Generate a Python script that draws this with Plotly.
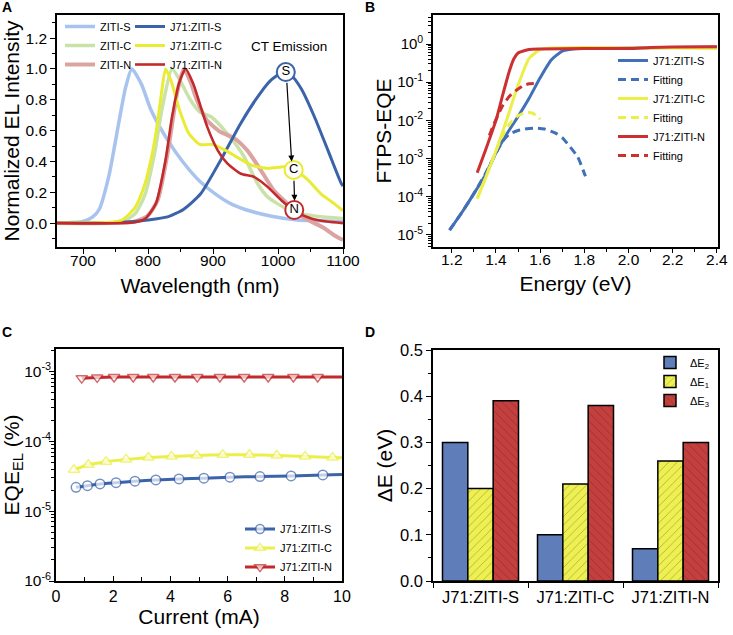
import plotly.graph_objects as go

W, H = 733, 635
FONT = "Liberation Sans, Arial, Helvetica, sans-serif"

# ---------------- Panel A: normalized EL spectra ----------------
wl_ziti_s = [660, 700, 715, 725, 740, 755, 765, 775, 790, 805, 830, 855, 880, 905, 930, 960, 990, 1030, 1060, 1100]
el_ziti_s = [0.0, 0.01, 0.04, 0.09, 0.31, 0.65, 0.87, 1.0, 0.90, 0.73, 0.54, 0.39, 0.27, 0.185, 0.12, 0.075, 0.045, 0.02, 0.015, 0.01]

wl_ziti_c = [660, 760, 780, 795, 810, 822, 837, 850, 865, 880, 897, 922, 948, 968, 984, 1010, 1036, 1070, 1100]
el_ziti_c = [0.0, 0.01, 0.06, 0.18, 0.45, 0.75, 1.0, 0.92, 0.80, 0.72, 0.69, 0.58, 0.43, 0.26, 0.17, 0.10, 0.06, 0.04, 0.03]

wl_ziti_n = [660, 780, 800, 815, 830, 845, 855, 865, 875, 890, 912, 933, 953, 974, 994, 1015, 1036, 1056, 1070, 1087, 1100]
el_ziti_n = [0.0, 0.01, 0.05, 0.15, 0.45, 0.85, 1.0, 0.92, 0.80, 0.67, 0.59, 0.55, 0.47, 0.34, 0.21, 0.125, 0.045, 0.0, -0.03, -0.08, -0.11]

wl_j71_s = [660, 760, 800, 830, 855, 881, 912, 943, 974, 990, 1008, 1020, 1036, 1056, 1077, 1097, 1100]
el_j71_s = [0.0, 0.005, 0.02, 0.04, 0.09, 0.19, 0.41, 0.65, 0.85, 0.93, 0.98, 0.96, 0.87, 0.69, 0.47, 0.26, 0.24]

wl_j71_c = [660, 740, 760, 780, 795, 805, 812, 820, 827, 835, 848, 863, 880, 900, 920, 940, 960, 985, 1010, 1024, 1046, 1066, 1087, 1100]
el_j71_c = [0.0, 0.005, 0.02, 0.10, 0.25, 0.42, 0.58, 0.82, 1.0, 0.93, 0.74, 0.58, 0.51, 0.51, 0.47, 0.42, 0.375, 0.355, 0.365, 0.35, 0.28, 0.19, 0.125, 0.08]

wl_j71_n = [660, 780, 796, 812, 827, 837, 848, 858, 870, 881, 891, 907, 922, 943, 963, 984, 1005, 1025, 1051, 1075, 1100]
el_j71_n = [0.0, 0.005, 0.03, 0.125, 0.41, 0.69, 0.91, 1.0, 0.90, 0.756, 0.626, 0.474, 0.387, 0.32, 0.30, 0.235, 0.148, 0.08, 0.03, 0.01, 0.0]

ct_labels = ["S", "C", "N"]
ct_wl = [1012, 1024, 1025]
ct_el = [0.98, 0.345, 0.085]

# ---------------- Panel B: FTPS-EQE ----------------
e_s = [1.19, 1.25, 1.30, 1.35, 1.40, 1.45, 1.50, 1.55, 1.60, 1.65, 1.70, 1.75, 1.80, 2.00, 2.20, 2.40]
eqe_s = [1.32e-5, 4.2e-5, 1.2e-4, 3.5e-4, 1.4e-3, 4.5e-3, 1.26e-2, 3.8e-2, 0.13, 0.38, 0.65, 0.74, 0.76, 0.79, 0.81, 0.83]
e_s_fit = [1.19, 1.25, 1.30, 1.35, 1.40, 1.43, 1.46, 1.50, 1.54, 1.58, 1.62, 1.67, 1.70, 1.73, 1.77, 1.805]
eqe_s_fit = [1.32e-5, 4.2e-5, 1.2e-4, 3.8e-4, 1.38e-3, 2.8e-3, 4.3e-3, 5.4e-3, 6.0e-3, 6.3e-3, 5.9e-3, 4.6e-3, 3.5e-3, 2.2e-3, 1.1e-3, 3.4e-4]

e_c = [1.315, 1.35, 1.40, 1.45, 1.50, 1.55, 1.60, 1.65, 1.80, 2.00, 2.20, 2.40]
eqe_c = [8.9e-5, 2.8e-4, 1.6e-3, 1.1e-2, 8.3e-2, 0.42, 0.71, 0.78, 0.81, 0.79, 0.79, 0.76]
e_c_fit = [1.315, 1.35, 1.40, 1.43, 1.46, 1.50, 1.53, 1.56, 1.58, 1.60]
eqe_c_fit = [8.9e-5, 2.8e-4, 1.6e-3, 4.0e-3, 7.9e-3, 1.32e-2, 1.58e-2, 1.58e-2, 1.38e-2, 1.07e-2]

e_n = [1.315, 1.35, 1.40, 1.43, 1.46, 1.48, 1.50, 1.55, 1.60, 1.80, 2.00, 2.10, 2.20, 2.40]
eqe_n = [4.2e-4, 1.5e-3, 1.0e-2, 4.5e-2, 0.19, 0.40, 0.58, 0.72, 0.74, 0.76, 0.76, 0.81, 0.83, 0.85]
e_n_fit = [1.37, 1.39, 1.41, 1.43, 1.46, 1.49, 1.52, 1.55, 1.59]
eqe_n_fit = [4.0e-3, 7.9e-3, 1.4e-2, 2.4e-2, 4.2e-2, 6.0e-2, 7.9e-2, 9.1e-2, 9.3e-2]

b_tickvals = [1e-5, 1e-4, 1e-3, 1e-2, 1e-1, 1]
b_ticktext = ["10<sup>-5</sup>", "10<sup>-4</sup>", "10<sup>-3</sup>", "10<sup>-2</sup>", "10<sup>-1</sup>", "10<sup>0</sup>"]

# ---------------- Panel C: EQE_EL vs current ----------------
cur_s = [0.70, 1.10, 1.54, 2.10, 2.76, 3.49, 4.30, 5.17, 6.08, 7.13, 8.22, 9.33, 10.0]
eqe_el_s = [2.19e-5, 2.31e-5, 2.45e-5, 2.55e-5, 2.68e-5, 2.79e-5, 2.89e-5, 2.96e-5, 3.06e-5, 3.12e-5, 3.19e-5, 3.30e-5, 3.35e-5]
cur_c = [0.63, 1.13, 1.75, 2.45, 3.23, 4.04, 4.92, 5.83, 6.76, 7.72, 8.71, 9.67, 10.0]
eqe_el_c = [3.9e-5, 4.6e-5, 5.1e-5, 5.5e-5, 5.85e-5, 6.05e-5, 6.25e-5, 6.4e-5, 6.4e-5, 6.25e-5, 6.05e-5, 5.85e-5, 5.8e-5]
cur_n = [0.90, 1.44, 2.03, 2.70, 3.40, 4.16, 4.94, 5.73, 6.58, 7.42, 8.30, 9.15, 10.0]
eqe_el_n = [8.0e-4, 8.2e-4, 8.3e-4, 8.3e-4, 8.3e-4, 8.3e-4, 8.3e-4, 8.3e-4, 8.3e-4, 8.3e-4, 8.3e-4, 8.3e-4, 8.3e-4]

c_tickvals = [1e-6, 1e-5, 1e-4, 1e-3]
c_ticktext = ["10<sup>-6</sup>", "10<sup>-5</sup>", "10<sup>-4</sup>", "10<sup>-3</sup>"]

# ---------------- Panel D: energy losses ----------------
devices = ["J71:ZITI-S", "J71:ZITI-C", "J71:ZITI-N"]
dE2 = [0.30, 0.10, 0.07]
dE1 = [0.20, 0.21, 0.26]
dE3 = [0.39, 0.38, 0.30]

# ---------------- colours ----------------
LBLUE, LGREEN, PINK = "#a9c3ef", "#c9e2aa", "#dca3a3"
BLUE, YELLOW, RED = "#3b63aa", "#e9ec34", "#c22a2c"
B_BLUE, B_YELLOW, B_RED = "#4170b8", "#ecef4a", "#cc3030"
D_BLUE, D_YELLOW, D_RED = "#5e7db9", "#eef052", "#c4403f"

fig = go.Figure()

def spec(x, y, name, color, width, legend):
    fig.add_trace(go.Scatter(x=x, y=y, name=name, mode="lines", xaxis="x", yaxis="y",
                             line=dict(color=color, width=width, shape="spline", smoothing=0.6),
                             legend=legend))

spec(wl_ziti_s, el_ziti_s, "ZITI-S", LBLUE, 3.5, "legend")
spec(wl_ziti_c, el_ziti_c, "ZITI-C", LGREEN, 3.5, "legend")
spec(wl_ziti_n, el_ziti_n, "ZITI-N", PINK, 4, "legend")
spec(wl_j71_s, el_j71_s, "J71:ZITI-S", BLUE, 3, "legend2")
spec(wl_j71_c, el_j71_c, "J71:ZITI-C", YELLOW, 3, "legend2")
spec(wl_j71_n, el_j71_n, "J71:ZITI-N", RED, 2.6, "legend2")

fig.add_trace(go.Scatter(x=ct_wl, y=ct_el, mode="markers+text", text=ct_labels, showlegend=False,
                         xaxis="x", yaxis="y", textposition="middle center",
                         textfont=dict(size=13, color="black", family=FONT),
                         marker=dict(size=18, color="white", line=dict(color=[BLUE, YELLOW, RED], width=2))))

def ftps(x, y, name, color, dash, legend="legend3"):
    fig.add_trace(go.Scatter(x=x, y=y, name=name, mode="lines", xaxis="x2", yaxis="y2",
                             line=dict(color=color, width=3, dash=dash, shape="spline", smoothing=0.5),
                             legend=legend))

ftps(e_s, eqe_s, "J71:ZITI-S", B_BLUE, "solid")
ftps(e_s_fit, eqe_s_fit, "Fitting", B_BLUE, "8px,5px")
ftps(e_c, eqe_c, "J71:ZITI-C", B_YELLOW, "solid")
ftps(e_c_fit, eqe_c_fit, "Fitting", B_YELLOW, "8px,5px")
ftps(e_n, eqe_n, "J71:ZITI-N", B_RED, "solid")
ftps(e_n_fit, eqe_n_fit, "Fitting", B_RED, "8px,5px")

def eqe_trace(x, y, name, color, symbol, size):
    sizes = [size] * (len(x) - 1) + [0]
    fig.add_trace(go.Scatter(x=x, y=y, name=name, mode="lines+markers", xaxis="x3", yaxis="y3",
                             line=dict(color=color, width=3, shape="spline", smoothing=0.4),
                             marker=dict(symbol=symbol, size=sizes, color="white",
                                         line=dict(color=color, width=1.5)),
                             legend="legend4"))

eqe_trace(cur_s, eqe_el_s, "J71:ZITI-S", BLUE, "circle", 9.5)
eqe_trace(cur_c, eqe_el_c, "J71:ZITI-C", B_YELLOW, "triangle-up", 10)
eqe_trace(cur_n, eqe_el_n, "J71:ZITI-N", RED, "triangle-down", 10)

fig.add_trace(go.Bar(x=devices, y=dE2, name="ΔE<sub>2</sub>", xaxis="x4", yaxis="y4", legend="legend5",
                     marker=dict(color=D_BLUE, line=dict(color="black", width=1.5))))
fig.add_trace(go.Bar(x=devices, y=dE1, name="ΔE<sub>1</sub>", xaxis="x4", yaxis="y4", legend="legend5",
                     marker=dict(color=D_YELLOW, line=dict(color="black", width=1.5),
                                 pattern=dict(shape="/", fgcolor="#55552a", size=6, solidity=0.12, fillmode="overlay"))))
fig.add_trace(go.Bar(x=devices, y=dE3, name="ΔE<sub>3</sub>", xaxis="x4", yaxis="y4", legend="legend5",
                     marker=dict(color=D_RED, line=dict(color="black", width=1.5),
                                 pattern=dict(shape="\\", fgcolor="#5a1a1a", size=6, solidity=0.12, fillmode="overlay"))))


def xd(a, b):
    return [a / W, b / W]


def yd(top, bottom):
    return [1 - bottom / H, 1 - top / H]


def axis(title=None, tsize=15.5, standoff=None, **kw):
    d = dict(showline=True, linecolor="black", linewidth=1.6, mirror=True, showgrid=False,
             zeroline=False, ticks="outside", ticklen=5, tickwidth=1.3, tickcolor="black",
             automargin=False, tickfont=dict(size=tsize, color="black", family=FONT))
    if title is not None:
        t = dict(text=title, font=dict(size=21, color="black", family=FONT))
        if standoff is not None:
            t["standoff"] = standoff
        d["title"] = t
    d.update(kw)
    return d

minor_out = lambda dt, t0=None: dict(ticks="outside", ticklen=3, tickwidth=1, tickcolor="black", dtick=dt, **({} if t0 is None else {"tick0": t0}))

legend_common = dict(bgcolor="rgba(0,0,0,0)", font=dict(size=11, color="black", family=FONT),
                     xanchor="left", yanchor="top", tracegroupgap=0, itemclick=False)

fig.update_layout(
    width=W, height=H, margin=dict(l=0, r=0, t=0, b=0),
    paper_bgcolor="white", plot_bgcolor="white",
    font=dict(family=FONT, color="black"),
    barmode="group", bargap=0.2, bargroupgap=0,
    xaxis=axis("Wavelength (nm)", standoff=10, domain=xd(57, 343), anchor="y", range=[660, 1100],
               tick0=700, dtick=100, ticklabelstandoff=-6, minor=minor_out(50, 650)),
    yaxis=axis("Normalized EL Intensity", standoff=2, domain=yd(15, 247), anchor="x",
               range=[-0.155, 1.35], tick0=0, dtick=0.2, tickformat=".1f", minor=minor_out(0.1, 0)),
    xaxis2=axis("Energy (eV)", standoff=9, domain=xd(433, 718), anchor="y2", range=[1.115, 2.405],
                tick0=1.2, dtick=0.2, tickformat=".1f", ticklen=4, ticklabelstandoff=-6,
                minor=minor_out(0.1, 1.1)),
    yaxis2=axis("FTPS-EQE", tsize=15, standoff=0, domain=yd(15, 247), anchor="x2", type="log",
                range=[-5.32, 0.76], tickmode="array", tickvals=b_tickvals, ticktext=b_ticktext,
                minor=dict(ticks="outside", ticklen=3, tickwidth=1, tickcolor="black", dtick="D1")),
    xaxis3=axis("Current (mA)", tsize=16, standoff=0, domain=xd(56, 342), anchor="y3", range=[0, 10],
                tick0=0, dtick=2, ticks="inside",
                minor=dict(ticks="inside", ticklen=4, tickwidth=1, tickcolor="black", dtick=1, tick0=0)),
    yaxis3=axis("EQE<sub>EL</sub> (%)", tsize=15.5, standoff=0, domain=yd(349, 581), anchor="x3", type="log",
                range=[-6, -2.68], tickmode="array", tickvals=c_tickvals, ticktext=c_ticktext,
                ticklabelstandoff=-5,
                minor=dict(ticks="outside", ticklen=3, tickwidth=1, tickcolor="black", dtick="D1")),
    xaxis4=axis(None, tsize=16.5, domain=xd(433, 718), anchor="y4", type="category", tickson="boundaries"),
    yaxis4=axis("ΔE (eV)", tsize=16.5, standoff=2, domain=yd(350, 581), anchor="x4", range=[0, 0.5],
                tick0=0, dtick=0.1, tickformat=".1f", minor=minor_out(0.05, 0)),
    legend=dict(legend_common, x=60 / W, y=1 - 12 / H),
    legend2=dict(legend_common, x=130 / W, y=1 - 12 / H),
    legend3=dict(legend_common, x=613 / W, y=1 - 46 / H),
    legend4=dict(legend_common, x=240 / W, y=1 - 548 / H, yanchor="middle"),
    legend5=dict(legend_common, x=650 / W, y=1 - 348 / H),
)

# arrows in panel A (CT emission shift)
fig.add_annotation(x=1021, y=0.40, ax=1013.5, ay=0.92, xref="x", yref="y", axref="x", ayref="y",
                   text="", showarrow=True, arrowhead=2, arrowsize=1, arrowwidth=1.2, arrowcolor="black")
fig.add_annotation(x=1025.5, y=0.145, ax=1024.5, ay=0.285, xref="x", yref="y", axref="x", ayref="y",
                   text="", showarrow=True, arrowhead=2, arrowsize=1, arrowwidth=1.2, arrowcolor="black")
fig.add_annotation(x=1017, y=1.145, xref="x", yref="y", text="CT Emission", showarrow=False,
                   font=dict(size=13.5, color="black", family=FONT))

# panel letters
for letter, px, py in [("A", 7, 7), ("B", 370, 7), ("C", 7, 332), ("D", 370, 332)]:
    fig.add_annotation(x=px / W, y=1 - py / H, xref="paper", yref="paper", text="<b>%s</b>" % letter,
                       showarrow=False, xanchor="center", yanchor="middle",
                       font=dict(size=14, color="black", family=FONT))

fig.write_html("out.html", config={"displayModeBar": False},
               post_script="document.body.style.margin='0px';")
